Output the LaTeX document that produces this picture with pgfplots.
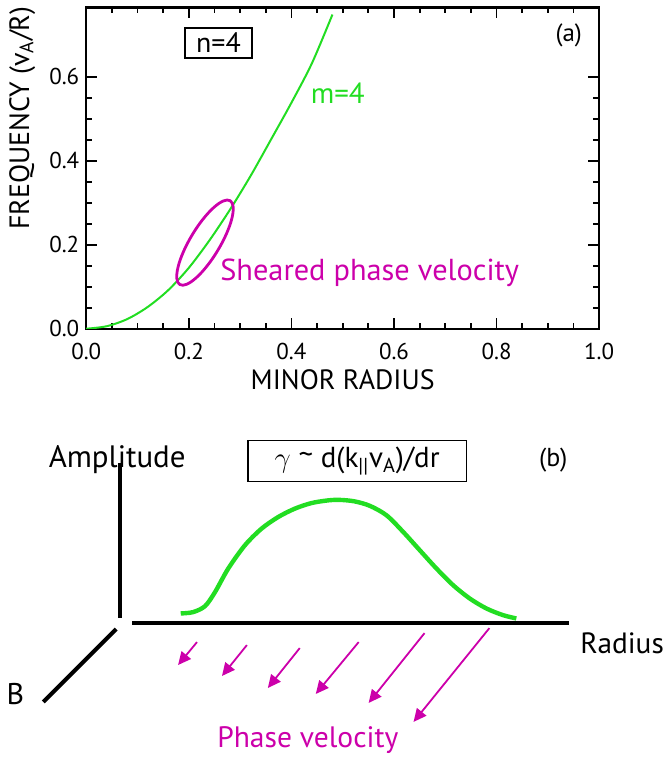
\documentclass[border=0pt]{standalone}
\usepackage{fontspec}
\setmainfont{PT Sans}
\usepackage{pgfplots}
\usepackage{pgfplotstable}
\pgfplotsset{compat=1.18}
\usetikzlibrary{arrows.meta,shapes.geometric}
\definecolor{modeGreen}{HTML}{22DD22}
\definecolor{phaseMag}{HTML}{CC00AA}

% m=4 continuum frequency vs minor radius
\pgfplotstableread{
r      freq
0.000  0.000
0.040  0.006
0.080  0.023
0.120  0.052
0.160  0.092
0.200  0.145
0.240  0.210
0.280  0.283
0.320  0.363
0.360  0.450
0.400  0.538
0.440  0.632
0.480  0.748
}\dispersion

% schematic mode amplitude (canvas pixels)
\pgfplotstableread{
x      y
185.7  618.3
198.0  617.0
210.0  611.0
220.0  597.0
233.3  573.3
250.0  550.0
266.7  533.3
283.3  521.7
300.0  513.3
316.7  507.7
333.3  505.0
345.0  504.5
360.0  506.0
375.3  510.5
392.0  520.0
408.7  536.7
425.3  555.0
442.0  573.3
458.7  590.0
475.3  603.3
492.0  613.3
508.7  620.0
522.0  623.3
}\amplitude

% phase velocity arrows (tail + vector, canvas pixels)
\pgfplotstableread{
x    y    u    v
202  647  -19  23
252  650  -25  31
305  653  -32  40
364  647  -43  52
430  638  -56  70
495  633  -76  94
}\phasevel

\begin{document}
\begin{tikzpicture}
\begin{axis}[
  at={(45.5pt,213.5pt)}, anchor=south west,
  width=257pt, height=161pt, scale only axis,
  xmin=0, xmax=1, ymin=0, ymax=0.765,
  xtick={0,0.2,...,1.0}, ytick={0,0.2,0.4,0.6},
  minor x tick num=3, minor y tick num=3,
  major tick length=5.5pt, minor tick length=3pt,
  axis line style={line width=1.2pt},
  tick style={color=black, line width=0.9pt},
  /pgf/number format/assume math mode=true,
  /pgf/number format/fixed,
  /pgf/number format/fixed zerofill,
  /pgf/number format/precision=1,
  ticklabel style={font=\fontsize{11.5}{13}\selectfont},
  xticklabel style={yshift=-3.5pt},
  xlabel={MINOR RADIUS}, ylabel={FREQUENCY (v\textsubscript{A}/R)},
  label style={font=\fontsize{14}{16}\selectfont},
  xlabel style={at={(axis description cs:0.5,-0.158)}, anchor=center},
  ylabel style={at={(axis description cs:-0.125,0.655)}, anchor=center},
]
\addplot[modeGreen, line width=1pt, smooth, no markers] table[x=r, y=freq] {\dispersion};
\end{axis}

\begin{axis}[
  at={(0pt,0pt)}, anchor=south west,
  width=343.5pt, height=380pt, scale only axis,
  xmin=0, xmax=687, ymin=0, ymax=760, y dir=reverse,
  hide axis, clip=false,
]
% panel (a) annotations
\node[draw=phaseMag, line width=1.4pt, ellipse, inner sep=0pt,
  minimum width=49pt, minimum height=15pt, rotate=59] at (axis cs:210,246.7) {};
\node[draw, line width=0.9pt, inner sep=0pt, minimum width=33.5pt, minimum height=15pt,
  font=\fontsize{14}{16}\selectfont] at (axis cs:223.5,46.7) {n=4};
\node[text=modeGreen, font=\fontsize{14.5}{16}\selectfont] at (axis cs:343,97) {m=4};
\node[font=\fontsize{12.5}{14}\selectfont] at (axis cs:574.5,38.5) {(a)};
\node[text=phaseMag, anchor=west, inner sep=0pt, font=\fontsize{15.2}{17}\selectfont]
  at (axis cs:225,277) {Sheared phase velocity};

% panel (b) schematic
\draw[line width=2pt] (axis cs:125,468) -- (axis cs:125,623);
\draw[line width=2pt] (axis cs:137,628) -- (axis cs:575,628);
\draw[line width=2pt] (axis cs:121,634) -- (axis cs:48,707);
\addplot[modeGreen, line width=2.2pt, smooth, no markers] table {\amplitude};
\addplot[phaseMag, line width=0.9pt, no markers,
  quiver={u=\thisrow{u}, v=\thisrow{v}},
  -{Triangle[length=6.5pt, width=6pt]}] table {\phasevel};

\node[font=\fontsize{15.5}{17}\selectfont] at (axis cs:122,464) {Amplitude};
\node[draw, line width=0.9pt, inner sep=0pt, minimum width=109.5pt, minimum height=20.5pt,
  font=\fontsize{14.5}{16}\selectfont] at (axis cs:362.5,465.5)
  {$\gamma$ \raisebox{0.2ex}{\char`\~} d(k\textsubscript{||}v\textsubscript{A})/dr};
\node[font=\fontsize{13}{15}\selectfont] at (axis cs:559,465) {(b)};
\node[font=\fontsize{14.7}{17}\selectfont] at (axis cs:628,648) {Radius};
\node[font=\fontsize{15}{17}\selectfont] at (axis cs:20,699) {B};
\node[text=phaseMag, font=\fontsize{14.8}{17}\selectfont] at (axis cs:313,745) {Phase velocity};
\end{axis}
\end{tikzpicture}
\end{document}
